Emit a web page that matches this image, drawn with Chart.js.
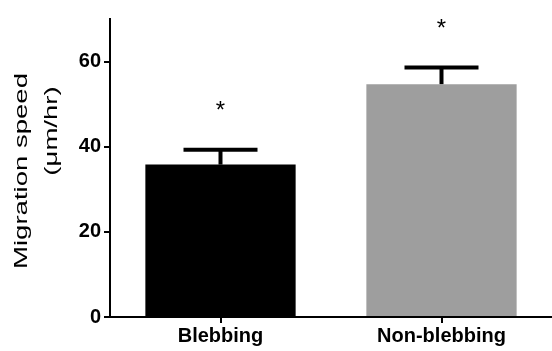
<!DOCTYPE html>
<html><head><meta charset="utf-8">
<script src="https://cdn.jsdelivr.net/npm/chart.js@4"></script>
<style>html,body{margin:0;padding:0;background:#fff;overflow:hidden}#wrap{width:552px;height:351px;position:relative}</style>
</head><body><div id="wrap"><canvas id="c"></canvas></div>
<script>
const categories = ['Blebbing', 'Non-blebbing'];
const meanSpeed = [35.8, 54.7];
const semSpeed = [3.5, 3.9];
const significance = ['*', '*'];
const yTicks = [0, 20, 40, 60];
const yTitleLines = ['Migration speed', '(μm/hr)'];
const barColors = ['#000000', '#9e9e9e'];

const FONT = "'Liberation Sans', Arial, sans-serif";

const errorBarPlugin = {
  id: 'errorBars',
  afterDatasetsDraw(chart) {
    const ctx = chart.ctx, xs = chart.scales.x, ys = chart.scales.y;
    ctx.save();
    ctx.strokeStyle = '#000';
    ctx.fillStyle = '#000';
    ctx.lineCap = 'butt';
    meanSpeed.forEach((m, i) => {
      const x = xs.getPixelForValue(i);
      const yBar = ys.getPixelForValue(m);
      const yTop = ys.getPixelForValue(m + semSpeed[i]);
      ctx.lineWidth = 4;
      ctx.beginPath();
      ctx.moveTo(x, yBar);
      ctx.lineTo(x, yTop);
      ctx.stroke();
      ctx.beginPath();
      ctx.moveTo(x - 37, yTop);
      ctx.lineTo(x + 37, yTop);
      ctx.stroke();
      ctx.font = '24px ' + FONT;
      ctx.textAlign = 'center';
      ctx.textBaseline = 'alphabetic';
      ctx.fillText(significance[i], x, yTop - 46 + 14);
    });
    ctx.restore();
  }
};

const yTitlePlugin = {
  id: 'yTitle',
  afterDraw(chart) {
    const ctx = chart.ctx;
    const pos = [[22, 171], [52, 131]];
    ctx.save();
    ctx.fillStyle = '#000';
    ctx.font = '19px ' + FONT;
    ctx.textAlign = 'center';
    ctx.textBaseline = 'middle';
    yTitleLines.forEach((t, i) => {
      ctx.save();
      ctx.translate(pos[i][0], pos[i][1]);
      ctx.rotate(-Math.PI / 2);
      ctx.scale(1.45, 1);
      ctx.fillText(t, 0, 0);
      ctx.restore();
    });
    ctx.restore();
  }
};

new Chart(document.getElementById('c'), {
  type: 'bar',
  data: {
    labels: categories,
    datasets: [{
      data: meanSpeed,
      backgroundColor: barColors,
      borderWidth: 0,
      barPercentage: 0.68,
      categoryPercentage: 1.0
    }]
  },
  options: {
    responsive: true,
    maintainAspectRatio: false,
    devicePixelRatio: 1,
    animation: false,
    layout: { padding: { top: 19, right: 0, left: 0, bottom: 0 } },
    plugins: { legend: { display: false }, tooltip: { enabled: false }, title: { display: false } },
    scales: {
      x: {
        type: 'category',
        grid: { drawOnChartArea: false, drawTicks: true, tickLength: 6, color: '#000', lineWidth: 2, offset: false },
        border: { color: '#000', width: 2 },
        ticks: { font: { family: FONT, weight: 'bold', size: 20 }, color: '#000', padding: 1, maxRotation: 0 },
        afterFit(s) { s.height = 34; }
      },
      y: {
        min: 0,
        max: 70,
        afterBuildTicks(s) { s.ticks = yTicks.map(v => ({ value: v })); },
        grid: { drawOnChartArea: false, drawTicks: true, tickLength: 6, color: '#000', lineWidth: 2 },
        border: { color: '#000', width: 2 },
        ticks: { font: { family: FONT, weight: 'bold', size: 20 }, color: '#000', padding: 3 },
        afterFit(s) { s.width = 110; }
      }
    }
  },
  plugins: [errorBarPlugin, yTitlePlugin]
});
</script>
</body></html>
